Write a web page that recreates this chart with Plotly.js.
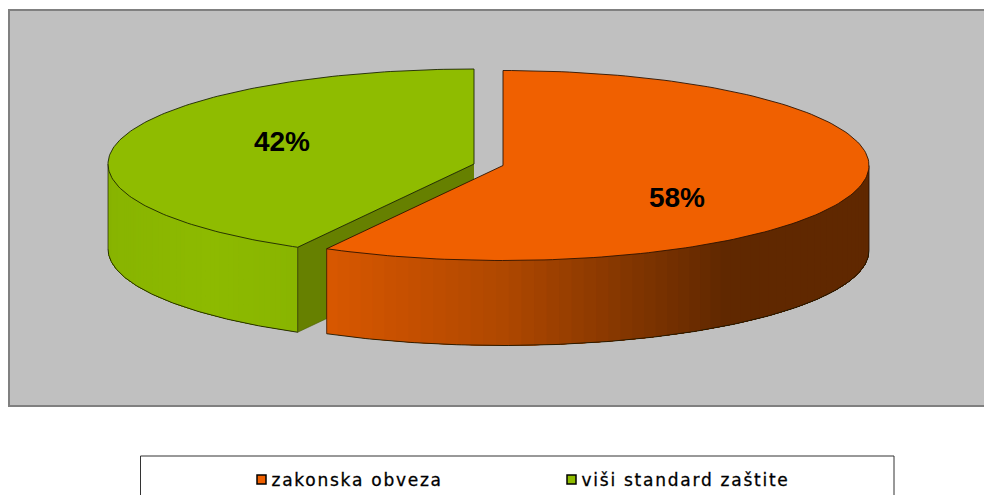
<!DOCTYPE html>
<html><head><meta charset="utf-8">
<script src="https://cdn.plot.ly/plotly-3.0.1.min.js"></script>
<style>html,body{margin:0;padding:0;background:#fff;overflow:hidden}#c{width:984px;height:495px}
.legendtext{letter-spacing:1.75px;translate:-10px 0;stroke:#000;stroke-width:.3px}
.legend{translate:0 5px}
</style>
</head><body><div id="c"></div>
<script>
// Data
const categories = ['zakonska obveza', 'viši standard zaštite'];
const shares = [58, 42];
const topColors = ['#F06000', '#8FBC00'];
const legendColors = ['#F06000', '#8FBC00'];
const cutColor = '#668000';

// Projection of the tilted, exploded pie (pixel-space axes)
const rx = 366, ry = 95, depth = 85;
const centres = [[503, 165.5], [474, 164]];
const labelOffsets = [[174, 34], [-192, -20.5]];
const total = shares.reduce((a, b) => a + b, 0);
const sweep = shares.map(s => s / total * 2 * Math.PI);
const pt = (c, a, dz = 0) => [c[0] + rx * Math.sin(a), c[1] - ry * Math.cos(a) + dz];
function arc(c, a0, a1, dz = 0, n = 160) {
  const out = [];
  for (let i = 0; i <= n; i++) out.push(pt(c, a0 + (a1 - a0) * i / n, dz));
  return out;
}
const lerp = (a, b, t) => a + (b - a) * t;
const traces = [];
function poly(points, fill, lineColor, lineWidth) {
  traces.push({
    type: 'scatter', mode: 'lines', x: points.map(p => p[0]), y: points.map(p => p[1]),
    fill: 'toself', fillcolor: fill, line: {color: lineColor || fill, width: lineWidth === undefined ? 0 : lineWidth},
    showlegend: false, hoverinfo: 'skip'
  });
}
function outline(points, color) {
  traces.push({type: 'scatter', mode: 'lines', x: points.map(p => p[0]), y: points.map(p => p[1]),
    line: {color, width: 1}, showlegend: false, hoverinfo: 'skip'});
}
function side(c, a0, a1, colorAt) {
  const n = 60;
  for (let i = 0; i < n; i++) {
    // each band runs to the far end of the side, so the next band simply paints over it
    const s0 = lerp(a0, a1, i / n), s1 = lerp(a0, a1, (i + 1) / n);
    const top = arc(c, s0, a1, 0, 60), bot = arc(c, s0, a1, depth, 60).reverse();
    poly(top.concat(bot), colorAt(pt(c, (s0 + s1) / 2)[0]));
  }
  outline(arc(c, a0, a1, depth), 'rgba(20,20,0,0.85)');
}
function rgb(c) { return `rgb(${c.map(Math.round).join(',')})`; }

// Green slice (back)
const gC = centres[1], gA0 = sweep[0], gA1 = 2 * Math.PI;
{
  const p = pt(gC, gA0);
  poly([gC, p, [p[0], p[1] + depth], [gC[0], gC[1] + depth]], cutColor, '#4a5c00', 0.6);
  side(gC, gA0, 1.5 * Math.PI, x => rgb([lerp(141, 131, Math.abs(x - 210) / 200), lerp(186, 174, Math.abs(x - 210) / 200), 0]));
  outline([[gC[0] - rx, gC[1]], [gC[0] - rx, gC[1] + depth]], 'rgba(30,30,0,0.7)');
  outline([p, [p[0], p[1] + depth]], 'rgba(50,60,0,0.8)');
  poly([gC].concat(arc(gC, gA0, gA1)).concat([gC]), topColors[1], '#1c2600', 0.9);
}
// Orange slice (front)
const oC = centres[0], oA0 = 0, oA1 = sweep[0];
{
  const stops = [[327, [216, 87, 0]], [500, [176, 72, 0]], [725, [96, 40, 0]], [900, [96, 40, 0]]];
  const colorAt = x => {
    for (let i = 0; i < stops.length - 1; i++) {
      if (x <= stops[i + 1][0]) {
        const t = Math.max(0, (x - stops[i][0]) / (stops[i + 1][0] - stops[i][0]));
        return rgb(stops[i][1].map((v, k) => lerp(v, stops[i + 1][1][k], t)));
      }
    }
    return rgb(stops[stops.length - 1][1]);
  };
  side(oC, oA1, Math.PI / 2, colorAt);
  const p = pt(oC, oA1), r = pt(oC, Math.PI / 2);
  outline([p, [p[0], p[1] + depth]], 'rgba(60,20,0,0.8)');
  outline([r, [r[0], r[1] + depth]], 'rgba(30,10,0,0.8)');
  poly([oC].concat(arc(oC, oA0, oA1)).concat([oC]), topColors[0], '#2e1300', 0.9);
}
// Percent labels
const labelCentres = [oC, gC];
traces.push({
  type: 'scatter', mode: 'text',
  x: labelCentres.map((c, i) => c[0] + labelOffsets[i][0]),
  y: labelCentres.map((c, i) => c[1] + labelOffsets[i][1]),
  text: shares.map(s => s + '%'), textposition: 'middle center',
  textfont: {family: '"Liberation Sans", Arial, sans-serif', size: 28, color: '#000', weight: 'bold'},
  showlegend: false, hoverinfo: 'skip'
});
// Legend entries
categories.forEach((name, i) => traces.push({
  type: 'scatter', mode: 'markers', x: [null], y: [null], name,
  marker: {symbol: 'square', size: 9, color: legendColors[i], line: {color: '#000', width: 1.5}},
  showlegend: true
}));

const layout = {
  width: 984, height: 495, margin: {l: 0, r: 0, t: 0, b: 0},
  paper_bgcolor: '#fff', plot_bgcolor: 'rgba(0,0,0,0)',
  xaxis: {range: [0, 984], visible: false, fixedrange: true},
  yaxis: {range: [495, 0], visible: false, fixedrange: true},
  showlegend: true,
  legend: {
    orientation: 'h', xref: 'paper', yref: 'paper', x: 241.5 / 984, y: 1 - 475 / 495,
    xanchor: 'left', yanchor: 'middle', bgcolor: 'rgba(0,0,0,0)', borderwidth: 0,
    font: {family: '"DejaVu Sans", sans-serif', size: 17, color: '#000'},
    entrywidthmode: 'pixels', entrywidth: 265, itemwidth: 30, traceorder: 'normal', itemclick: false, itemdoubleclick: false
  },
  shapes: [
    {type: 'rect', layer: 'below', xref: 'x', yref: 'y', x0: 9, x1: 990, y0: 10, y1: 406, fillcolor: '#C0C0C0', line: {color: '#808080', width: 2}},
    {type: 'rect', layer: 'below', xref: 'x', yref: 'y', x0: 140.5, x1: 894, y0: 456, y1: 510, fillcolor: '#fff', line: {color: '#333', width: 1}}
  ]
};
Plotly.newPlot('c', traces, layout, {displayModeBar: false, responsive: false});
</script></body></html>
